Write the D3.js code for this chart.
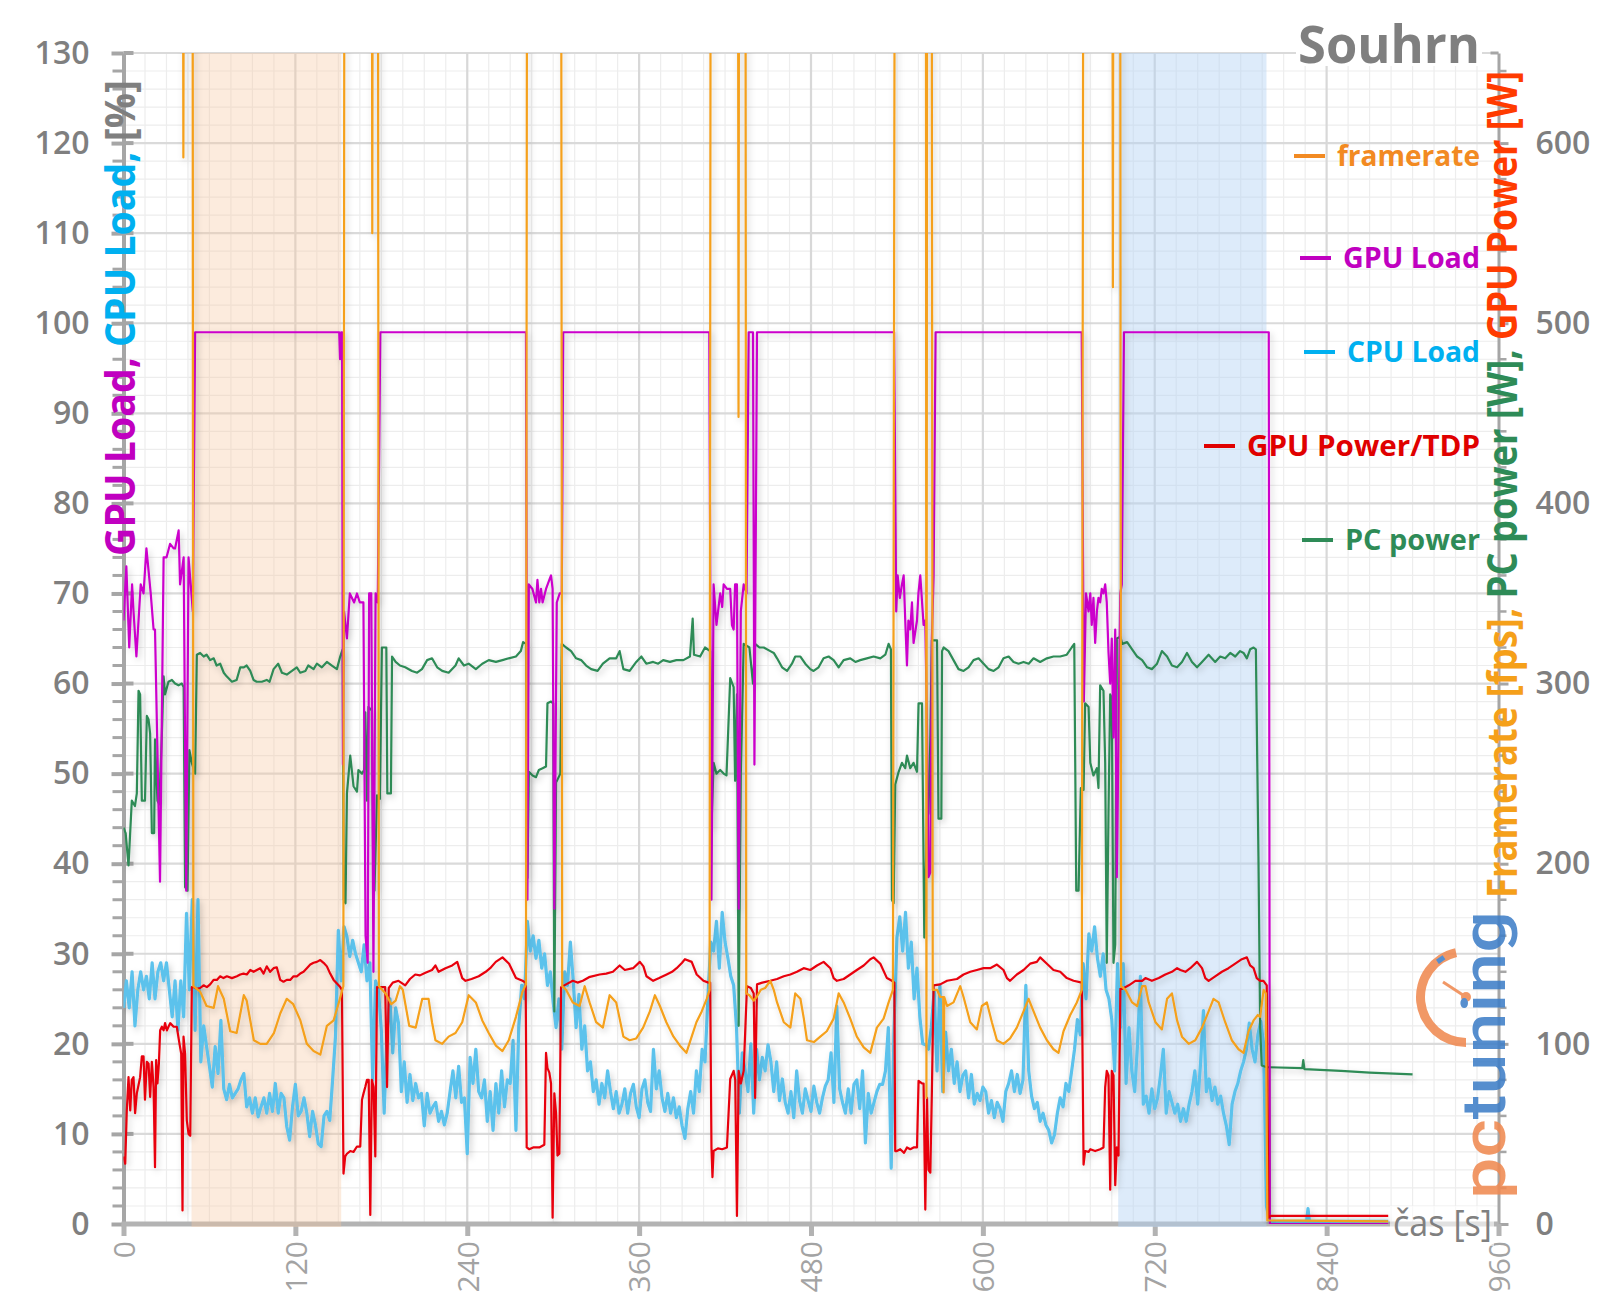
<!DOCTYPE html>
<html><head><meta charset="utf-8">
<script src="https://cdn.jsdelivr.net/npm/d3@7"></script>
<style>html,body{margin:0;padding:0;background:#fff;} svg{display:block;}</style>
</head><body>
<svg id="chart" width="1600" height="1313"></svg>
<script>
// ---------------- DATA ----------------
const xTicks = [0,120,240,360,480,600,720,840,960];
const leftTicks = [0,10,20,30,40,50,60,70,80,90,100,110,120,130];
const rightTicks = [0,100,200,300,400,500,600];
const shadedRanges = [[47.5,152],[694.5,798]];

// GPU Load [%] : [time s, value]
const gpuLoad = [
[0,67],[2,73],[4,64],[6,71],[7,68],[9,63],[12,71],[14,70],[16,75],[19,70],[21,66],[22,66],[25.5,38],[28,74],[30,74],[32.5,75.5],[35,75],[36,75],[38.5,77],[39.5,71],[42,74],[43.8,37],[45.4,74],[48.4,68],[50,99],
[150.6,99],[151.2,96],[152,99],[152.6,99],[153.2,51],[154,68],[156,65],[158,70],[161,69],[163,70],[165,69],[167.5,69],[169,32],[170.5,29],[171.5,70],[173,70],[174.5,28],[176,70],[177.5,69],[179.3,99],
[281,99],[282,36],[283,71],[285.5,70.5],[288,69],[289,71.5],[290.3,69],[291.5,70.5],[292.6,69],[295,70.5],[297.3,71.5],[298.5,72],[299.6,70.5],[300.8,35],[302.5,69],[304.5,70],[306,70],[307,99],
[409,99],[410.5,36],[412,71],[414,66.5],[416.6,70],[418,68.5],[419,71],[421.3,70.5],[423.6,70.5],[424.8,66.5],[426,66],[427,71],[428.3,71],[429.5,35],[431,68],[433,71],[435,70],[436.5,99],[439.5,99],[440.5,51],[442.3,99],
[538,99],[539.5,68],[540.5,72],[542,69.5],[543.5,71],[544.7,72],[545.8,67],[547,62],[548,67],[549.3,66],[550.5,69],[551.6,64.5],[554,67],[555,70],[556.3,72],[558.6,66.5],[559.8,67],[561,55],[562,38.5],[563.3,39],[564.4,65],[565.6,72],[567,99],
[669,99],[670.5,58],[672,70],[673.8,68],[675,70],[676,66.5],[677.2,69.5],[678.4,64.5],[679.6,68],[680.7,69.5],[681.9,69],[683,70.5],[684.2,70],[685.4,71],[686.5,69],[687.7,63.5],[688.9,60],[690,65],[691.2,54],[692.4,66],[693.5,38.5],[694.7,54],[695.9,70],[697,71],[698.5,99],
[799.6,99],[800.4,0],[883,0]
];

// CPU Load [%] sampled every 2 s from t = 0 to 800
const cpuStep = 2;
const cpuLoad = [
24,27,24,28,22,26,28,26,27.5,25,
29,25,28,29,27,29,26,23,27,21.5,
27,23,34.5,26,36,21.5,36,18,22,19.7,
17.5,15.2,19.7,16.7,22.6,15,13.8,15.5,14,14.5,
15,16,16.7,13,14,12.3,14,11.9,13,14,
12.3,14.5,12.5,15.6,12.3,14.5,14,10.8,9.3,13,
15.5,12,12.5,14,12.3,9.7,12.5,11,8.9,8.6,
12,12.5,11.5,16,20.8,32.6,27,33,31.9,29.7,
31.5,30,29,28,31,27,29,16,27,26,
21.5,12.3,21.5,25,19,24,22.3,14.7,18,13.5,
16.6,13.7,15.6,14,14.5,10.9,14.5,12.3,13,13.5,
11.4,12.5,11,12.3,14.7,17,14,17.5,13.5,14,
7.8,18.5,15.6,19.4,14.7,14,16,11.4,14.7,10.4,
15.6,12.3,17,13,16,15.6,20.4,10.4,22,26.5,
25,33.6,30.3,32,29.5,31.5,28.4,30,26.5,28,
24.6,21.8,25,19.4,28,26.5,31.3,27,21.8,25.5,
19.4,22,17,18,14.7,16,13.3,15.6,14,17,
14.7,12.8,14.7,12.3,13.3,15,12.3,14.5,15.5,13,
11.8,15,16,13.5,12.5,19.4,15,17,14,12.5,
14.5,12.3,14,11.8,13,10.9,9.5,12.8,14.7,12.3,
17,14.7,19.4,18,25,31.3,30.3,33.6,28.4,34.6,
31.3,29.5,27.5,26.5,21.8,12.3,19,17,14.7,20,
12.3,19.4,16,18.5,17,19.9,18,14.7,18,13.7,
16.1,13.5,12.3,14.7,11.8,17,13.7,12.3,15,13.7,
12.5,15.3,13.5,12.3,14,15.3,16,19,13.5,24.2,
15,13.5,12.3,15,12.3,15.5,16,12.8,17,9,
14.5,12.3,13.5,14.7,15.5,15.5,17,21.8,6.2,21.8,
31.8,34.1,30.3,34.6,28.4,31.3,25,28.4,23,20,
19.9,19.4,21.8,26,17,26.5,14.7,21.3,17,19.4,
15.6,18,14.7,16.5,17,14,16.6,13.3,14.5,13.7,
15.2,14.7,12.3,13.7,11.8,13.5,12.8,11.4,14.7,15.6,
17,14.7,16.6,14.5,16,26.5,17,14.2,12.8,13.5,
11.4,12.3,11,10.4,9,9.9,12.3,14,13,15.6,
14.7,17,19.4,22.7,21,28.9,25,32.2,30.3,33,
29.5,27.5,30,26,25,22.7,17,28.9,21.8,28.9,
15.6,21.8,17,14.7,20,27.5,13.3,14.2,12.3,15,
12.8,14,16.5,19.4,12.3,14.7,13.5,12.3,13.3,11.4,
12.8,11.4,13.3,14.7,17,13.3,17.9,23.7,14.7,16.1,
13.7,15.2,13.3,14.2,12.3,10.9,8.8,13.3,14.7,15.6,
17,18,19.4,22.3,19.4,18,21,22.5,20,2,
0.3
];
const cpuLoadTail = [[826,0.3],[827,1.7],[828,0.3],[883,0.3]];

// GPU Power [W]
const gpuPower = [
[0,37.5],[1.2,33.5],[2.3,63],[3.5,81.5],[4.7,63],[5.8,80],[7,81.5],[8.1,61.5],[9.3,72.5],[11.6,81.5],[12.8,93],[14,93],[15,69],[16.3,90],[17.5,89],[18.6,70.5],[19.8,90],[21,76],[22,31.5],[22.8,91],[23.7,78],[24.7,89],[25.6,107.5],[26.8,109.5],[28,107.5],[29,111.5],[30.3,107.5],[31.4,109.5],[32.6,111.5],[35,109.5],[37.2,109.5],[39.1,100],[40.3,94.5],[41.2,7.5],[41.9,104],[43,94.5],[44.2,57.5],[45.4,50],[46.6,49],[47.7,131.5],
[48.9,131.5],[51.2,130.5],[53.5,131],[55.9,132.5],[58.2,131.5],[60.5,133],[62.9,135.5],[65.2,135.5],[67.5,137.5],[69.8,136.5],[72.2,137.5],[75.7,136.5],[79.2,137.5],[81.5,138.5],[83.8,139],[86.1,138.5],[88.5,141],[90.8,140],[93.1,141],[95.4,142],[97.8,139],[100,143],[102.4,140],[104.8,142],[107,142.5],[109.4,135.5],[111.7,134.5],[114,135.5],[116.4,135.5],[118.7,137.5],[121,137.5],[123.4,139],[125.7,140],[128,142],[130.4,144],[132.7,145],[135,145.5],[137.4,146.5],[139.7,145],[142,143],[144.3,139],[146.7,135.5],[149,133.5],[151.3,131.5],[152.5,130],
[153.6,28],[154.8,37.5],[156,39],[158.3,40.5],[160.6,40],[163,43],[165.3,43],[166.5,69],[167.6,72.5],[168.8,76],[170,80],[171.2,80],[172.3,5],[173.4,80],[174.6,76],[175.8,37.5],[177,131.5],[179.3,131.5],[182.7,131.5],[184,76],[185.2,131],[188,134],
[192,135],[196.7,132.5],[200,136],[203.7,138.5],[207,138],[210.8,139.5],[215.4,141],[217.8,143.5],[220,140],[224.8,142],[229.5,143.5],[233,145.5],[236.5,136.5],[238.8,135],[243,136],[248,137.5],[252.9,140],[256,142],[259.9,145.5],[264.6,148],[269.2,144.5],[274,136.5],[278.6,135],[280.8,134],
[281.5,42.5],[283.3,41.5],[286,42.5],[290.3,42.5],[293.8,44],[295,95],[296,86.5],[297.3,84],[298.5,78],[299.6,3.5],[300.8,72.5],[302,61.5],[303,38],[304.3,39],[305.5,131.5],
[309,133],[313.7,135],[317,134],[320.7,135],[325,137],[332.4,138.5],[337,139],[341.7,140],[346.4,143.5],[350,141],[355.8,142],[360.5,145.5],[363,143],[365.1,137.5],[369.8,135],[374,136.5],[379.2,138.5],[383,140],[386.2,142],[390,145],[392,147],[396.7,145.5],[400.2,138.5],[404.9,135],[408.4,134],[409.6,134],
[410.5,42.5],[411.2,26],[412,40.5],[415,42],[418,41.5],[421.3,42.5],[423.6,80.5],[426,85],[427.1,80],[428.3,4.5],[429.5,85],[431,78],[433,85],[435.3,132],[438,131],[440,128],[441,70],[442.3,133],
[446,134],[451.6,135],[456.3,136],[461,137.5],[465.6,138.5],[470.2,140],[474.9,142],[479.5,141],[484.2,143.5],[488.8,145.5],[493.5,142],[495.8,136.5],[498.1,135],[502.8,136],[507.4,138.5],[512,141],[516.8,143.5],[521.4,147],[523.7,148],[528.4,144.5],[533,136.5],[536.5,135],[538.2,134],
[538.8,40.5],[540,40.5],[542.3,41.5],[545,39.5],[547,42.5],[549.3,41.5],[551.6,42.5],[554,42.5],[555.1,79.5],[557.5,78],[558.6,78],[559.8,8],[561,70],[562,30],[563.3,28.5],[564.4,73.5],[565.6,132.5],
[570.2,133],[575,135],[581.9,136],[586.5,138.5],[591.2,140],[595.8,141],[600.5,142],[605.1,142],[609.8,144],[614.4,141],[616.8,136.5],[619,135],[623.7,138.5],[628.4,141],[633,144.5],[637.7,145.5],[640,148],[644.7,144.5],[649.3,141],[654,140],[658.6,136.5],[663.3,135],[669.1,134],
[670.3,33],[671.4,40.5],[673.8,40],[675,41.5],[678.4,40.5],[681.9,41.5],[684.2,42.5],[685.4,76],[686.5,85],[687.7,82.5],[688.9,19],[690,85],[691.2,82.5],[692.4,21.5],[693.5,42.5],[694.7,38],[696,130.5],
[697.3,130.5],[701.9,132.5],[706.5,135],[711.2,135],[713.5,136.5],[718,135],[722.8,136.5],[727.4,138.5],[732,140],[735.6,142],[737.9,141],[741.4,140],[744.8,142],[749.5,145.5],[753,142],[755.3,136.5],[757.6,135],[762.2,137.5],[766.9,140],[771.5,142],[776.2,144.5],[780.8,147],[784.3,148],[786.6,143.5],[789,142],[791.2,136.5],[793.6,135],[795.9,135],[798.2,132.5],[799.4,3.5],[801,4.5],[883,4.5]
];

// PC power [W]
const pcPower = [
[0,220],[1.5,217],[3.5,199],[5.8,235],[8,232],[9.3,239],[10.5,296],[11.6,294],[12.8,235],[15,235],[16.3,282],[17.5,280],[18.6,272],[19.8,217],[21.4,217],[22,269],[23.7,235],[25,233],[26.8,272],[28,304],[29,294],[31.4,301],[33.8,302],[36,300],[38.4,299],[40.7,300],[42,298],[43,187],[44.7,185],[46,263],[47.7,256],[50,250],[51.2,316],
[53.5,317],[56,315],[58,316],[60.5,313],[63,314],[65,310],[67.5,311],[70,306],[72,304],[75.7,301],[79,302],[81.5,309],[84,309],[86,310],[88.5,307],[90.8,302],[93,301],[96.6,301],[100,302],[102,301],[104.8,308],[108,311],[110.6,306],[114,305],[117.6,307],[121,309],[123.4,306],[127,307],[129,310],[132.7,308],[135,311],[138.5,309],[142,312],[145.5,310],[149,308],[151.3,315],[153,319],
[153.8,180],[155,178],[156,239],[158.3,260],[160.6,243],[163,240],[164,252],[166.5,250],[168,252],[168.8,284],[170,235],[171,287],[173.4,285],[174.5,185],[175.2,185],[177,238],[179,236],[180.4,320],[183.5,320],[184.2,239],[186.7,239],[187.5,315],[190,312],[193,310],
[196.7,309],[201.4,307],[205,306],[208.4,308],[212,313],[215.4,314],[219,309],[222.5,307],[227,306],[231.8,310],[234,314],[237.7,310],[241,311],[246,308],[250.5,311],[255,313],[260,312],[264.6,313],[269,314],[274,315],[277.4,318],[279,323],[281,322],
[282,192],[283,251],[285.6,249],[288,248],[290,252],[292.6,253],[295,254],[296,289],[298.5,290],[300,289],[300.8,118],[302,245],[305,250],[306,322],
[309,320],[312.5,318],[316,314],[319.5,313],[323,310],[326.5,308],[331,307],[334.7,311],[339.4,314],[344,314],[346.4,318],[349,308],[353.4,307],[358,312],[361.6,315],[365,311],[369.8,312],[373.3,311],[376.8,313],[381.5,312],[386,313],[390.9,313],[395.5,315],[397.4,336],[398.3,316],[402.6,315],[406,320],[409.6,318],
[410.5,220],[412,256],[414,250],[416.6,252],[419,250],[421,249],[423.6,303],[426,298],[427,246],[428.3,294],[429.5,110],[431,250],[433,322],[437,320],[439.5,300],[441,322],[444,320],[447,320],
[451.6,318],[454,317],[456.3,314],[459.8,309],[463.3,307],[466.7,311],[469,315],[472.6,315],[476,311],[479.5,308],[481.8,307],[485.3,309],[488.8,314],[492.3,315],[495.8,313],[499.3,309],[502.8,313],[507.4,314],[511,312],[514.4,313],[519,314],[523.7,315],[528.4,314],[531.9,316],[534.2,322],[535.8,319],
[536.5,180],[537.7,178],[538.8,244],[541.2,251],[543.5,256],[545.8,253],[547,260],[549.3,253],[551.6,256],[554,251],[555.1,289],[557.5,289],[559.1,159],[561,225],[562,228],[563.3,268],[564.4,324],[568,324],[569,225],[571,225],[571.5,318],[572.6,320],
[576,318],[579.5,313],[583,308],[586.5,307],[590,309],[593.5,313],[597,314],[600.5,311],[604,308],[607.5,307],[611,309],[614.4,314],[618,315],[621.4,312],[624.9,311],[628.4,312],[632,311],[635.4,314],[640,312],[644.7,314],[649.3,315],[654,315],[658.6,316],[662,320],[663.8,322],
[665.2,185],[666.8,185],[668.4,242],[670.3,241],[671.4,289],[673.8,287],[675,256],[677.2,249],[679.6,253],[680.7,242],[681.9,299],[684.2,296],[685.4,256],[686.5,145],[687.7,228],[688.9,294],[690,292],[691.2,145],[692.4,155],[693.5,325],[696,326],
[697.3,322],[700.7,323],[704.2,319],[707.7,315],[711.2,313],[714.7,309],[718,308],[721.6,311],[725,318],[728.6,315],[732,310],[735.6,309],[739,312],[742.5,317],[746,312],[749.5,309],[753,312],[757.6,316],[762.2,312],[765.7,315],[769.2,314],[772.7,317],[776.2,315],[779.6,318],[782,317],[784.3,314],[786.6,319],[789,320],[790.6,319],
[792.4,204],[793.6,109],[794.7,88],[798.2,87],[800,87],[823,86.5],[823.7,91],[824.5,86],[850,85],[870,84],[900,83]
];

// Framerate [fps]
const framerate = [
[0,800],[41.4,800],[41.8,592],[42.3,800],[48.2,800],[48.8,132],[53.5,129],[58,121],[63,120],[66,132],[70,125],[74.5,107],[79,106],[84,127],[86,124],[88.5,113],[91,102],[95.5,100],[100,100],[105,106],[109.5,117],[114,125],[118.5,122],[123.5,113],[128,100],[132.7,96],[137.4,94],[142,110],[146.7,113],[150,122],[153.5,132],
[154.3,800],[173.3,800],[173.7,550],[174.1,800],[177.6,800],[178.3,132],[183,128],[187,122],[190,124],[193,132],[195,130],[199.5,110],[204,109],[208.6,125],[213,125],[215.4,112],[217.8,102],[222.5,100],[227,104],[231.8,106],[236.5,112],[241,127],[246,123],[250.5,113],[255,106],[260,99],[264.6,96],[269,102],[274,115],[278.6,129],[281,133],
[281.8,800],[305.5,800],[306.3,132],[309,130],[313.7,123],[318.4,121],[322,132],[325.4,123],[330,112],[334.7,109],[339.4,127],[344,123],[346.4,114],[349,104],[353.4,102],[358,103],[362.8,109],[367.5,118],[371,127],[374.5,121],[379,112],[384,104],[388.5,99],[393,95],[396.7,104],[400,112],[403.7,118],[407.2,125],[409.2,130],
[410,800],[429,800],[429.4,448],[429.8,800],[434.2,800],[434.8,128],[437,127],[440,124],[442,126],[445,130],[448,131],[451.6,135],[454,130],[456.3,123],[461,112],[465.6,109],[469,128],[472.6,125],[475,114],[477.2,102],[482,101],[486.5,104],[491,107],[495.8,114],[499.3,128],[502.8,123],[507.4,114],[512,104],[516.8,98],[521.4,95],[526,109],[530.7,114],[534.2,123],[537.2,130],
[538.6,800],[560.2,800],[560.6,70],[561.1,800],[564.2,800],[565,130],[568,130],[570.2,126],[572.3,126],[572.6,73],[573,126],[575,121],[579.5,123],[584.2,132],[586.5,126],[591.2,112],[595.8,108],[599.3,121],[602.8,123],[606.3,112],[609.8,102],[614.4,100],[619,103],[623.7,109],[628.4,118],[631.9,125],[635.4,118],[640,109],[644.7,102],[649.3,97],[652.8,95],[656.3,107],[661,116],[665.6,123],[669.1,130],
[670.2,800],[690.4,800],[690.8,520],[691.2,800],[695.8,800],[696.5,132],[699.6,130],[704.2,123],[707.7,121],[711.2,132],[713.5,132],[715.8,123],[720.5,112],[725,108],[728.6,125],[732,128],[735.6,113],[739,104],[743.7,100],[748.3,102],[753,109],[757.6,118],[761,125],[764.6,123],[769.2,112],[773.8,102],[778.5,97],[782,95],[785.5,107],[789,113],[792,116],[793.6,115],[796,130],[797.6,128],[798.6,2],[883,1.5]
];

const legendNames = ['framerate','GPU Load','CPU Load','GPU Power/TDP','PC power'];

// ---------------- CHART ----------------
const svg = d3.select('#chart');
const FONT = "'Open Sans', 'Noto Sans', sans-serif";
const L = 123.5, R = 1498.5, T = 53, B = 1224;
const x = d3.scaleLinear().domain([0, 960]).range([L, R]);
const yL = d3.scaleLinear().domain([0, 130]).range([B, T]);
const yR = d3.scaleLinear().domain([0, 650]).range([B, T]);

const defs = svg.append('defs');
defs.append('clipPath').attr('id','plotclip').append('rect')
  .attr('x', L).attr('y', T).attr('width', R - L).attr('height', B - T);
const f = defs.append('filter').attr('id','shadow').attr('x','-5%').attr('y','-5%').attr('width','110%').attr('height','110%');
f.append('feDropShadow').attr('dx',2).attr('dy',3).attr('stdDeviation',3)
  .attr('flood-color','#000').attr('flood-opacity',0.2);

svg.append('rect').attr('width',1600).attr('height',1313).attr('fill','#fff');

// grid
const grid = svg.append('g');
const minorY = d3.range(0, 131, 2).filter(v => v % 10 !== 0);
grid.selectAll('.hmin').data(minorY).enter().append('line')
  .attr('x1', L).attr('x2', R).attr('y1', d => yL(d)).attr('y2', d => yL(d))
  .attr('stroke', '#ededed').attr('stroke-width', 1.2);
const minorX = d3.range(0, 961, 15).filter(v => v % 120 !== 0);
grid.selectAll('.vmin').data(minorX).enter().append('line')
  .attr('x1', d => x(d)).attr('x2', d => x(d)).attr('y1', T).attr('y2', B)
  .attr('stroke', '#ededed').attr('stroke-width', 1.2);
grid.selectAll('.hmaj').data(leftTicks.filter(v => v > 0)).enter().append('line')
  .attr('x1', L).attr('x2', R).attr('y1', d => yL(d)).attr('y2', d => yL(d))
  .attr('stroke', '#dadada').attr('stroke-width', 2.2);
grid.selectAll('.vmaj').data(xTicks.filter(v => v > 0 && v < 960)).enter().append('line')
  .attr('x1', d => x(d)).attr('x2', d => x(d)).attr('y1', T).attr('y2', B)
  .attr('stroke', '#d8d8d8').attr('stroke-width', 2.2);

// axes
function styleAxis(g, color, width) {
  g.select('.domain').attr('stroke', color).attr('stroke-width', width);
  g.selectAll('.tick line').attr('stroke', color).attr('stroke-width', width);
  g.attr('font-family', FONT);
}
// left axis
const gL = svg.append('g').attr('transform', `translate(${L},0)`)
  .call(d3.axisLeft(yL).tickValues(leftTicks).tickSize(12).tickPadding(22).tickSizeOuter(0));
styleAxis(gL, '#a6a6a6', 4);
gL.selectAll('.tick text').attr('font-size', 32).attr('font-weight', 600).attr('fill', '#7f7f7f');
svg.append('g').selectAll('line').data(minorY).enter().append('line')
  .attr('x1', L - 11).attr('x2', L).attr('y1', d => yL(d)).attr('y2', d => yL(d))
  .attr('stroke', '#a6a6a6').attr('stroke-width', 3);
svg.append('g').selectAll('line').data(leftTicks).enter().append('line')
  .attr('x1', L).attr('x2', L + 10).attr('y1', d => yL(d)).attr('y2', d => yL(d))
  .attr('stroke', '#a6a6a6').attr('stroke-width', 4);

// right axis
const gR = svg.append('g').attr('transform', `translate(${R},0)`)
  .call(d3.axisRight(yR).tickValues(rightTicks).tickSize(10).tickPadding(27).tickSizeOuter(0));
styleAxis(gR, '#a6a6a6', 3);
gR.selectAll('.tick text').attr('font-size', 32).attr('font-weight', 600).attr('fill', '#7f7f7f');
svg.append('g').selectAll('line').data(d3.range(0, 651, 20).filter(v => v % 100 !== 0)).enter().append('line')
  .attr('x1', R).attr('x2', R + 8).attr('y1', d => yR(d)).attr('y2', d => yR(d))
  .attr('stroke', '#a6a6a6').attr('stroke-width', 2.5);
svg.append('line').attr('x1', R - 8).attr('x2', R).attr('y1', T).attr('y2', T)
  .attr('stroke', '#a6a6a6').attr('stroke-width', 3);

// bottom axis
const gB = svg.append('g').attr('transform', `translate(0,${B})`)
  .call(d3.axisBottom(x).tickValues(xTicks).tickSize(12).tickSizeOuter(0));
styleAxis(gB, '#b3b3b3', 5);
gB.select('.domain').attr('d', `M${L - 2},0H${R}`);
gB.selectAll('.tick text')
  .attr('transform', 'rotate(-90)').attr('x', -17).attr('y', 0).attr('dy', '0.36em')
  .attr('text-anchor', 'end').attr('font-size', 30).attr('fill', '#a3a3a3').attr('font-weight', 400);

// shaded ranges (drawn over grid and axis)
const shadeColors = ['rgba(248,200,160,0.36)', 'rgba(180,210,245,0.45)'];
svg.append('g').selectAll('rect').data(shadedRanges).enter().append('rect')
  .attr('x', d => x(d[0])).attr('width', d => x(d[1]) - x(d[0]))
  .attr('y', T).attr('height', B - T + 3)
  .attr('fill', (d, i) => shadeColors[i]);

// series
const cpuSeries = cpuLoad.map((v, i) => [i * cpuStep, v]).concat(cpuLoadTail);
const series = [
  { data: cpuSeries, y: yL, color: '#5bc2ec', width: 3.2 },
  { data: pcPower,   y: yR, color: '#2e8b57', width: 2.2 },
  { data: gpuLoad,   y: yL, color: '#cc00cc', width: 2.2 },
  { data: gpuPower,  y: yR, color: '#e8000b', width: 2.2 },
  { data: framerate, y: yR, color: '#f5a01a', width: 2.2 }
];
const plot = svg.append('g').attr('clip-path', 'url(#plotclip)');
series.forEach(s => {
  plot.append('path').datum(s.data)
    .attr('d', d3.line().x(d => x(d[0])).y(d => s.y(d[1])))
    .attr('fill', 'none').attr('stroke', s.color).attr('stroke-width', s.width)
    .attr('stroke-linejoin', 'round').attr('filter', 'url(#shadow)');
});

// title
svg.append('rect').attr('x', 1296).attr('y', 0).attr('width', 186).attr('height', 66).attr('fill', '#fff');
svg.append('text').attr('x', 1480).attr('y', 63).attr('text-anchor', 'end')
  .attr('font-family', FONT).attr('font-size', 52).attr('font-weight', 700).attr('fill', '#7f7f7f')
  .attr('textLength', 182).attr('lengthAdjust', 'spacingAndGlyphs').text('Souhrn');

// legend
const legendColors = ['#f28a22', '#c000c0', '#00b0f0', '#e00000', '#2e8b57'];
const legendY = [156, 258, 352, 446, 540];
const legendW = [143, 137, 133, 233, 135];
const lg = svg.append('g').attr('font-family', FONT).attr('font-weight', 700).attr('font-size', 28);
legendNames.forEach((n, i) => {
  lg.append('text').attr('x', 1480).attr('y', legendY[i]).attr('dy', '0.35em')
    .attr('text-anchor', 'end').attr('fill', legendColors[i])
    .attr('textLength', legendW[i]).attr('lengthAdjust', 'spacingAndGlyphs').text(n);
  const xs = 1480 - legendW[i] - 12;
  lg.append('line').attr('x1', xs - 31).attr('x2', xs).attr('y1', legendY[i]).attr('y2', legendY[i])
    .attr('stroke', legendColors[i]).attr('stroke-width', 4);
});

// left axis title
const lt = svg.append('text').attr('transform', 'translate(135,556) rotate(-90)')
  .attr('font-family', FONT).attr('font-weight', 700).attr('font-size', 42)
  .attr('textLength', 476).attr('lengthAdjust', 'spacingAndGlyphs');
[['GPU Load,', '#c000c0'], [' CPU Load,', '#00b0f0'], [' [%]', '#7f7f7f']].forEach(p =>
  lt.append('tspan').attr('fill', p[1]).text(p[0]));

// right axis title
const rt = svg.append('text').attr('transform', 'translate(1517,898) rotate(-90)')
  .attr('font-family', FONT).attr('font-weight', 700).attr('font-size', 42)
  .attr('textLength', 827).attr('lengthAdjust', 'spacingAndGlyphs');
[['Framerate [fps],', '#f5a01a'], [' PC power [W],', '#2e8b57'], [' GPU Power [W]', '#ff3b00']].forEach(p =>
  rt.append('tspan').attr('fill', p[1]).text(p[0]));

// x axis title
svg.append('rect').attr('x', 1390).attr('y', 1206).attr('width', 104).attr('height', 40).attr('fill', 'rgba(255,255,255,0.6)');
svg.append('text').attr('x', 1492).attr('y', 1236).attr('text-anchor', 'end')
  .attr('font-family', FONT).attr('font-size', 36).attr('fill', '#808080')
  .attr('textLength', 99).attr('lengthAdjust', 'spacingAndGlyphs').text('čas [s]');

// logo
const logo = svg.append('g').attr('opacity', 0.88);
logo.append('path').attr('transform', 'translate(1466,997)')
  .attr('d', d3.arc().innerRadius(41).outerRadius(50).startAngle(Math.PI * 1.0).endAngle(Math.PI * 1.93)())
  .attr('fill', '#f08a52');
logo.append('rect').attr('x', 1437).attr('y', 957).attr('width', 8).attr('height', 5)
  .attr('transform', 'rotate(-35,1441,960)').attr('fill', '#3f7fc8');
logo.append('line').attr('x1', 1466).attr('y1', 997).attr('x2', 1443).attr('y2', 982)
  .attr('stroke', '#f08a52').attr('stroke-width', 3);
logo.append('circle').attr('cx', 1466).attr('cy', 997).attr('r', 5).attr('fill', '#f08a52');
const lt2 = logo.append('text').attr('transform', 'translate(1505,1199) rotate(-90)')
  .attr('font-family', "Roboto, 'DejaVu Sans', sans-serif").attr('font-weight', 500).attr('font-size', 62)
  .attr('textLength', 288).attr('lengthAdjust', 'spacingAndGlyphs');
lt2.append('tspan').attr('fill', '#f08a52').text('pc');
lt2.append('tspan').attr('fill', '#3f7fc8').text('tuning');
</script></body></html>
